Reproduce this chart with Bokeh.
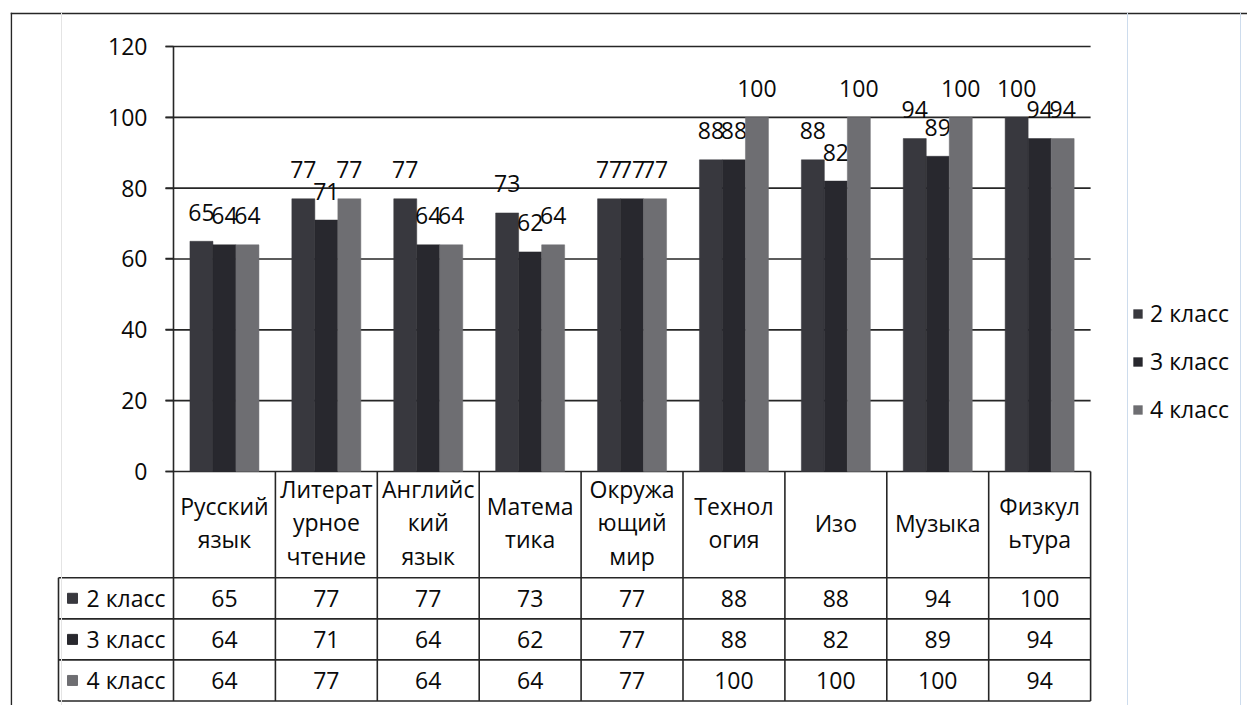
from bokeh.plotting import figure
from bokeh.models import Range1d, LinearAxis, FixedTicker, Legend, LegendItem, Span, ColumnDataSource
from bokeh.core.properties import value
from bokeh.embed import file_html
from bokeh.resources import INLINE

# ---------------- data ----------------
categories = ["Русский\nязык", "Литерат\nурное\nчтение", "Английс\nкий\nязык",
              "Матема\nтика", "Окружа\nющий\nмир", "Технол\nогия", "Изо",
              "Музыка", "Физкул\nьтура"]
series = ["2 класс", "3 класс", "4 класс"]
grade2 = [65, 77, 77, 73, 77, 88, 88, 94, 100]
grade3 = [64, 71, 64, 62, 77, 88, 82, 89, 94]
grade4 = [64, 77, 64, 64, 77, 100, 100, 100, 94]
y_ticks = [0, 20, 40, 60, 80, 100, 120]
colors = ["#38383e", "#28282e", "#6e6e72"]

FONT = "Open Sans"
FS = "23px"
INK = "#0a0a0a"
LINE = "#262626"

# ---------------- geometry (pixels -> data units) ----------------
W, H = 1247, 705
FRAME_L, FRAME_T = 10, 12          # page px
FRAME_R, FRAME_B = 1247, 705
AX_X = 173                          # y-axis px
CAT_PX = 101.9                      # px per category
Y0_PX, PX_PER_UNIT = 471, 3.5417    # y=0 px, px per value unit

x_start = (FRAME_L - AX_X) / CAT_PX
x_end = (FRAME_R - AX_X) / CAT_PX
y_end = (Y0_PX - FRAME_T) / PX_PER_UNIT
y_start = (Y0_PX - FRAME_B) / PX_PER_UNIT

n = len(categories)
header_h = 30.0
row_h = 11.6
table_left = (58 - AX_X) / CAT_PX

p = figure(width=W, height=H, output_backend="svg", toolbar_location=None,
           x_range=Range1d(x_start, x_end), y_range=Range1d(y_start, y_end),
           x_axis_type=None, y_axis_type=None,
           min_border_left=FRAME_L, min_border_top=FRAME_T,
           min_border_right=0, min_border_bottom=0)
p.grid.visible = False
p.outline_line_color = None
p.background_fill_color = "white"
p.border_fill_color = "white"

# outer chart-area border (top and left edges visible in the scan)
p.add_layout(Span(location=y_end - 0.25, dimension="width", line_color=LINE, line_width=1.6))
p.add_layout(Span(location=x_start + 0.008, dimension="height", line_color=LINE, line_width=1.6))

# faint sheet gridlines / scan artefacts
for loc in [(1127 - AX_X) / CAT_PX, (1240 - AX_X) / CAT_PX]:
    p.add_layout(Span(location=loc, dimension="height", line_color="#cddced", line_width=1))
p.add_layout(Span(location=(61 - AX_X) / CAT_PX, dimension="height", line_color="#e4e4e4", line_width=1))

# horizontal gridlines at tick values
tick_ext = -8 / CAT_PX
p.segment(x0=[tick_ext] * len(y_ticks), y0=y_ticks, x1=[n] * len(y_ticks), y1=y_ticks,
          line_color=LINE, line_width=1.6)

# bars
bw = 23 / CAT_PX
offsets = [-bw, 0, bw]
renderers = []
for vals, off, col in zip([grade2, grade3, grade4], offsets, colors):
    xs = [i + 0.5 + off for i in range(n)]
    src = ColumnDataSource(dict(x=xs, top=vals, lab=[str(v) for v in vals]))
    r = p.vbar(x="x", top="top", bottom=0, width=bw, source=src,
               fill_color=col, line_color=col, line_width=0.5)
    renderers.append(r)
    p.text(x="x", y="top", text="lab", source=src, text_align="center",
           text_baseline="middle", y_offset=-29, text_font=value(FONT),
           text_font_size=FS, text_color=INK)

# y axis
yaxis = LinearAxis(ticker=FixedTicker(ticks=y_ticks), fixed_location=0, bounds=(0, 120),
                   axis_line_color=LINE, axis_line_width=1.6,
                   major_tick_out=8, major_tick_in=0, major_tick_line_color=LINE,
                   major_tick_line_width=1.6, minor_tick_out=0, minor_tick_in=0,
                   major_label_standoff=18, major_label_text_font=FONT,
                   major_label_text_font_size=FS, major_label_text_color=INK)
p.add_layout(yaxis, "left")

# ---------------- data table ----------------
row_edges = [-header_h - k * row_h for k in range(len(series) + 1)]
table_bottom = row_edges[-1]
p.segment(x0=[table_left] * len(row_edges), y0=row_edges, x1=[n] * len(row_edges), y1=row_edges,
          line_color=LINE, line_width=1.6)
p.segment(x0=list(range(n + 1)), y0=[0] * (n + 1), x1=list(range(n + 1)), y1=[table_bottom] * (n + 1),
          line_color=LINE, line_width=1.6)
p.segment(x0=[table_left], y0=[row_edges[0]], x1=[table_left], y1=[table_bottom],
          line_color=LINE, line_width=1.6)

# category header
p.text(x=[i + 0.5 for i in range(n)], y=[-header_h / 2 + 0.6] * n, text=categories,
       text_align="center", text_baseline="middle", text_line_height=1.04,
       text_font=value(FONT), text_font_size=FS, text_color=INK)

# values
for k, vals in enumerate([grade2, grade3, grade4]):
    yc = -header_h - (k + 0.5) * row_h
    p.text(x=[i + 0.5 for i in range(n)], y=[yc] * n, text=[str(v) for v in vals],
           text_align="center", text_baseline="middle",
           text_font=value(FONT), text_font_size=FS, text_color=INK)

# row headers with colour keys
row_y = [-header_h - (k + 0.5) * row_h for k in range(len(series))]
p.scatter(x=[(72 - AX_X) / CAT_PX] * len(series), y=row_y, marker="square", size=10,
          fill_color=colors, line_color=colors)
p.text(x=[(86 - AX_X) / CAT_PX] * len(series), y=row_y, text=series,
       text_align="left", text_baseline="middle",
       text_font=value(FONT), text_font_size=FS, text_color=INK)

# legend
legend = Legend(items=[LegendItem(label=s, renderers=[r]) for s, r in zip(series, renderers)],
                location=(1122, 280), orientation="vertical",
                glyph_width=11, glyph_height=11, label_height=24, spacing=16,
                padding=0, margin=0, label_standoff=7,
                border_line_color=None, background_fill_alpha=0,
                label_text_font=FONT, label_text_font_size=FS, label_text_color=INK)
p.add_layout(legend)

open("out.html", "w").write(file_html(p, INLINE))
